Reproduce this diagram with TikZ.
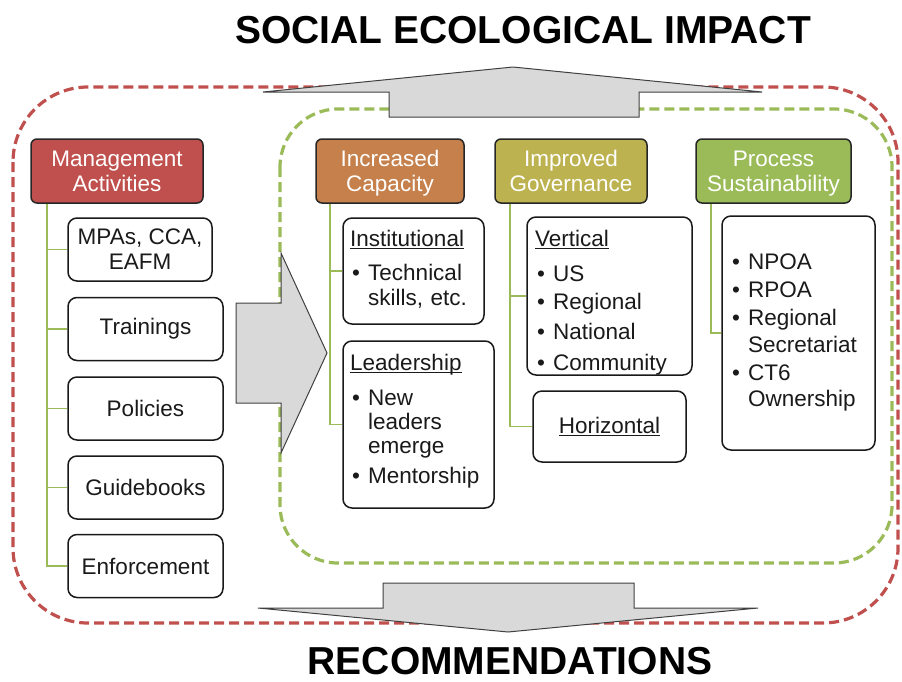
\documentclass[tikz,border=0pt]{standalone}
\usepackage{fontspec}
\setmainfont{Liberation Sans}

\definecolor{mgmtred}{HTML}{C0504D}
\definecolor{capbrown}{HTML}{C5804C}
\definecolor{govolive}{HTML}{BDB250}
\definecolor{sustgreen}{HTML}{9BBB59}
\definecolor{arrowgray}{HTML}{D9D9D9}
\definecolor{inkgray}{HTML}{1A1A1A}

% underlined heading with the rule at a fixed depth
\newcommand{\ulword}[1]{\setbox0=\hbox{#1}\rlap{\rule[-2.6pt]{\wd0}{1.1pt}}\box0}
% heading line of a list
\newcommand{\bhead}[1]{\noindent\ulword{#1}\par}
% bulleted entry with hanging indent; optional argument = extra space above
\newcommand{\bitem}[2][0pt]{\vspace{#1}\hangindent=18pt\hangafter=1\noindent\makebox[18pt][l]{\hspace{2pt}\textbullet}#2\par}
% two centred lines with fixed top and bottom struts
\newcommand{\twoline}[2]{\rule{0pt}{20.8pt}#1\\#2\rule[-4.8pt]{0pt}{4.8pt}}

\begin{document}
\begin{tikzpicture}[x=1pt,y=-1pt,
  headbox/.style={draw=black!85, line width=1.5pt, rounded corners=6pt, text=white,
    align=center, inner sep=0pt, minimum height=64pt,
    font=\fontsize{22.5}{25}\selectfont},
  itembox/.style={draw=black!90, fill=white, line width=1.5pt, rounded corners=9pt,
    inner sep=0pt, align=center, text=inkgray, font=\fontsize{22.5}{25}\selectfont},
  listtext/.style={anchor=north west, inner sep=0pt, align=left, text=inkgray},
  conn/.style={draw=sustgreen, line width=1.8pt},
  bigarrow/.style={fill=arrowgray, draw=black!75, line width=1pt, line join=miter},
  dashframe/.style={dash pattern=on 10pt off 5pt, line width=3.2pt},
  titletext/.style={font=\fontsize{39}{40}\selectfont\bfseries, text=black}
]
\useasboundingbox (0,0) rectangle (902,681);

% outer and inner dashed frames
\draw[dashframe, draw=mgmtred, rounded corners=75pt] (13,87) rectangle (898,623);
\draw[dashframe, draw=sustgreen, rounded corners=58pt] (280,109) rectangle (892,563);

% block arrows
\draw[bigarrow] (263,92) -- (513,67) -- (762,92) -- (639,92) -- (639,117)
  -- (389,117) -- (389,92) -- cycle;
\draw[bigarrow] (236,303) -- (281,303) -- (281,253) -- (327,353) -- (281,453)
  -- (281,403) -- (236,403) -- cycle;
\draw[bigarrow] (383,583) -- (634,583) -- (634,608) -- (758,608) -- (508,632)
  -- (258,608) -- (383,608) -- cycle;

% titles
\node[titletext] (impact) at (523,30) {SOCIAL ECOLOGICAL IMPACT};
\node[titletext] (recs) at (510,661) {RECOMMENDATIONS};

% management column
\node[headbox, fill=mgmtred, minimum width=172pt] (mgmt) at (117,171) {\twoline{Management}{Activities}};
\node[itembox, minimum width=144pt, minimum height=63pt] (mpas) at (140,249.5) {MPAs, CCA,\\EAFM};
\node[itembox, minimum width=155pt, minimum height=63pt] (train) at (145.5,329) {Trainings};
\node[itembox, minimum width=155pt, minimum height=63pt] (policies) at (145.5,408.5) {Policies};
\node[itembox, minimum width=155pt, minimum height=63pt] (guide) at (145.5,487.5) {Guidebooks};
\node[itembox, minimum width=155pt, minimum height=63pt] (enforce) at (145.5,566) {Enforcement};

% outcome headers
\node[headbox, fill=capbrown, minimum width=148pt] (cap) at (390,171) {\twoline{Increased}{Capacity}};
\node[headbox, fill=govolive, minimum width=152pt] (gov) at (571,171) {\twoline{Improved}{Governance}};
\node[headbox, fill=sustgreen, minimum width=155pt] (sust) at (773.5,171) {\twoline{Process}{Sustainability}};

% outcome detail boxes
\node[itembox, minimum width=141pt, minimum height=106pt] (inst) at (413.5,271) {};
\node[itembox, minimum width=151pt, minimum height=167pt] (lead) at (418.5,424.5) {};
\node[itembox, minimum width=165pt, minimum height=158pt] (vert) at (609.5,296) {};
\node[itembox, minimum width=153pt, minimum height=71pt] (horiz) at (609.5,426.5) {\ulword{Horizontal}};
\node[itembox, minimum width=153pt, minimum height=234pt] (npoa) at (798.5,333) {};

% list contents
\node[listtext, text width=132pt, font=\fontsize{22.5}{25}\selectfont] (insttext) at (350,229.6)
  {\bhead{Institutional}\bitem[9pt]{Technical\newline skills, etc.}};
\node[listtext, text width=142pt, font=\fontsize{22.5}{24}\selectfont] (leadtext) at (350,353.6)
  {\bhead{Leadership}\bitem[11pt]{New\newline leaders\newline emerge}\bitem[6pt]{Mentorship}};
\node[listtext, text width=155pt, font=\fontsize{22.5}{24}\selectfont] (verttext) at (535,229.6)
  {\bhead{Vertical}\bitem[11pt]{US}\bitem[4pt]{Regional}\bitem[6pt]{National}\bitem[7pt]{Community}};
\node[listtext, text width=142pt, font=\fontsize{22.5}{26.5}\selectfont] (npoatext) at (730,254)
  {\bitem{NPOA}\bitem[1.5pt]{RPOA}\bitem[1.5pt]{Regional\newline Secretariat}\bitem[1.5pt]{CT6\newline Ownership}};

% tree connectors
\foreach \child in {mpas,train,policies,guide,enforce}
  \draw[conn] ([xshift=17pt]mgmt.south west) |- (\child.west);
\foreach \child in {inst,lead}
  \draw[conn] ([xshift=15pt]cap.south west) |- (\child.west);
\foreach \child in {vert,horiz}
  \draw[conn] ([xshift=16pt]gov.south west) |- (\child.west);
\draw[conn] ([xshift=16pt]sust.south west) |- (npoa.west);

\end{tikzpicture}
\end{document}
